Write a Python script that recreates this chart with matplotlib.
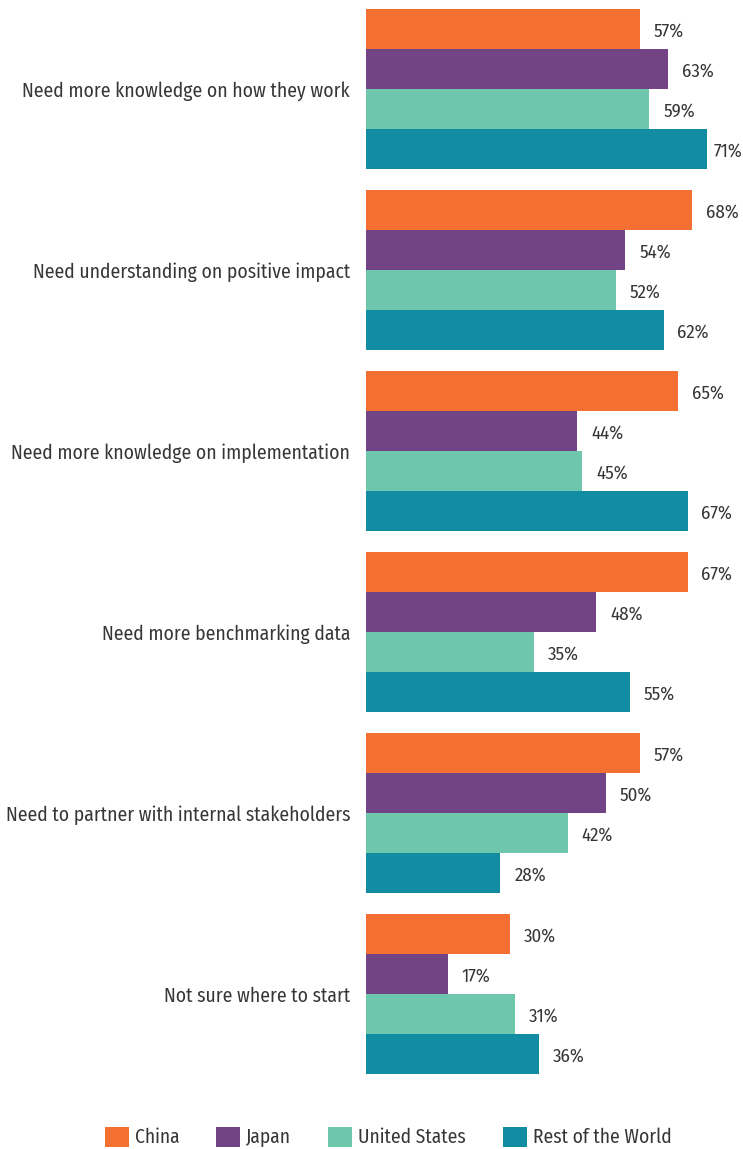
import numpy as np
import matplotlib.pyplot as plt
from matplotlib.patches import Patch

categories = [
    "Need more knowledge on how they work",
    "Need understanding on positive impact",
    "Need more knowledge on implementation",
    "Need more benchmarking data",
    "Need to partner with internal stakeholders",
    "Not sure where to start",
]
series = ["China", "Japan", "United States", "Rest of the World"]
china = [57, 68, 65, 67, 57, 30]
japan = [63, 54, 44, 48, 50, 17]
united_states = [59, 52, 45, 35, 42, 31]
rest_of_world = [71, 62, 67, 55, 28, 36]
colors = ["#F37032", "#724486", "#6EC6AC", "#128CA3"]

plt.rcParams['font.family'] = ['Fira Sans Condensed', 'DejaVu Sans']
text_color = "#363636"

W, H = 743, 1149
fig = plt.figure(figsize=(W / 100, H / 100), dpi=100)
ax = fig.add_axes([366 / W, 0, 1 - 366 / W, 1])

bar_px = 40
gap = 21 / bar_px
top = 9 / bar_px
values = [china, japan, united_states, rest_of_world]
group_centers = []
labels = []
for g in range(len(categories)):
    base = top + g * (4 + gap)
    group_centers.append(base + 2)
    for s, vals in enumerate(values):
        y = base + s + 0.5
        ax.barh(y, vals[g], height=1.0, color=colors[s], linewidth=0)
        t = ax.annotate(f"{vals[g]}%", (vals[g], y), xytext=(10, -1.5),
                        textcoords="offset points", va="center", ha="left",
                        fontsize=13.5, color=text_color)
        labels.append(t)

ax.set_xlim(0, (W - 366) / 4.80)
ax.set_ylim(H / bar_px, 0)
ax.set_yticks(group_centers)
ax.set_yticklabels(categories, fontsize=14.1, color=text_color)
ax.tick_params(axis="y", length=0, pad=11.5)
ax.set_xticks([])
for sp in ax.spines.values():
    sp.set_visible(False)

handles = [Patch(facecolor=c, linewidth=0) for c in colors]
fig.legend(handles, series, loc="center", bbox_to_anchor=(388 / W, 1 - 1137 / H),
           ncol=4, frameon=False, fontsize=14, handlelength=1.23, handleheight=1.23,
           handletextpad=0.31, columnspacing=1.9, labelcolor=text_color)

# keep value labels inside the right edge, like the original
fig.canvas.draw()
r = fig.canvas.get_renderer()
for t in labels:
    bb = t.get_window_extent(r)
    over = bb.x1 - (W - 1)
    if over > 0:
        dx, dy = t.xyann
        t.xyann = (dx - over * 72 / 100, dy)

fig.savefig("out.png", dpi=100)
